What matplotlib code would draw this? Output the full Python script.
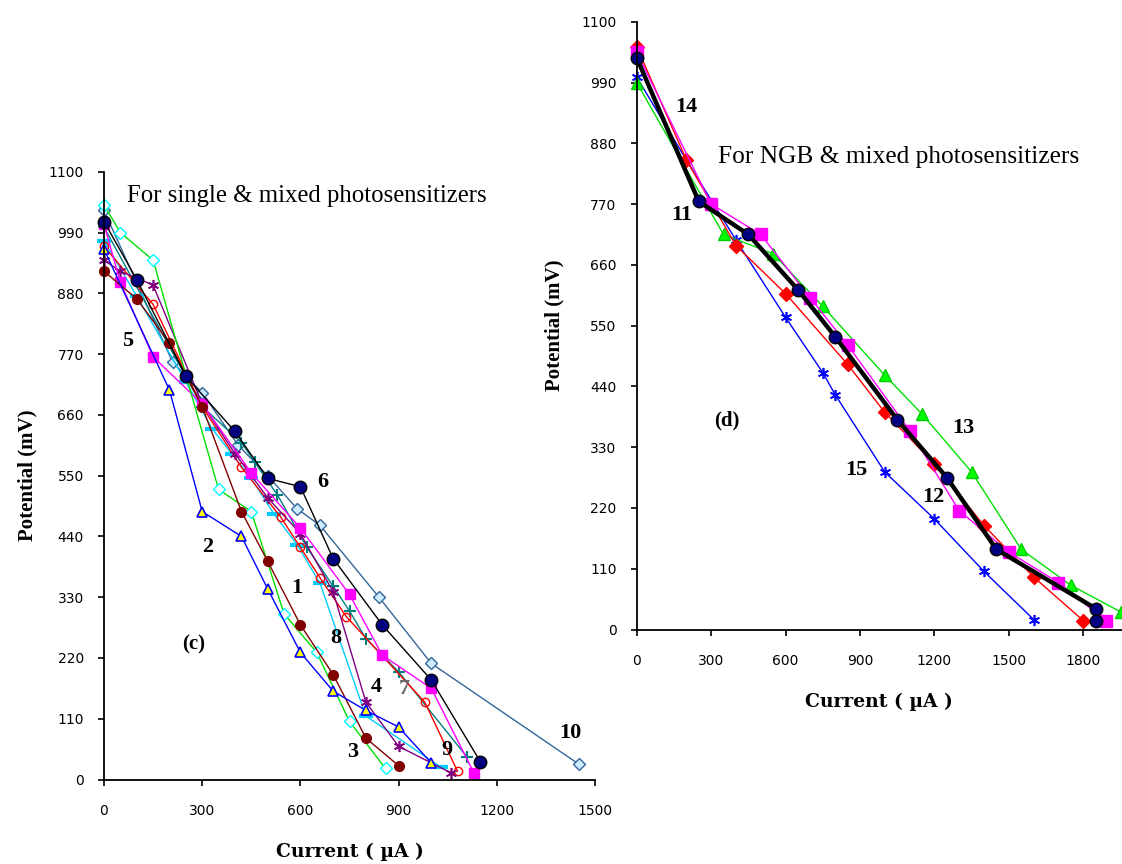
import matplotlib
matplotlib.use("Agg")
import matplotlib.pyplot as plt

# ---- panel (c): single & mixed photosensitizers ----
c1_x = [0, 100, 200, 300, 420, 500, 600, 700, 800, 900]
c1_y = [920, 870, 790, 675, 485, 395, 280, 190, 75, 25]
c2_x = [0, 200, 300, 420, 500, 600, 700, 800, 900, 1000]
c2_y = [960, 705, 485, 440, 345, 230, 160, 125, 95, 30]
c3_x = [0, 50, 150, 350, 450, 550, 650, 750, 860]
c3_y = [1040, 990, 940, 525, 485, 300, 230, 105, 20]
c4_x = [0, 50, 150, 300, 400, 500, 600, 700, 800, 900, 1060]
c4_y = [940, 920, 895, 680, 590, 510, 445, 340, 140, 60, 12]
c5_x = [0, 50, 150, 300, 450, 600, 750, 850, 1000, 1130]
c5_y = [1005, 900, 765, 680, 555, 455, 335, 225, 165, 12]
c6_x = [0, 100, 250, 400, 500, 600, 700, 850, 1000, 1150]
c6_y = [1010, 905, 730, 630, 545, 530, 400, 280, 180, 32]
c7_x = [0, 150, 300, 420, 540, 600, 660, 740, 980, 1080]
c7_y = [965, 860, 675, 565, 475, 420, 365, 295, 140, 15]
c8_x = [0, 100, 250, 330, 390, 450, 520, 590, 660, 800, 1030]
c8_y = [975, 875, 720, 635, 590, 545, 480, 425, 355, 115, 22]
c9_x = [0, 300, 420, 460, 530, 620, 700, 750, 800, 900, 1110]
c9_y = [1000, 675, 610, 575, 515, 420, 350, 305, 255, 195, 40]
c10_x = [0, 210, 300, 410, 500, 590, 660, 840, 1000, 1450]
c10_y = [1030, 755, 700, 605, 550, 490, 460, 330, 210, 28]

# ---- panel (d): NGB & mixed photosensitizers ----
d11_x = [0, 250, 450, 650, 800, 1050, 1250, 1450, 1850, 1850]
d11_y = [1035, 775, 715, 615, 530, 380, 275, 145, 38, 16]
d12_x = [0, 300, 500, 700, 850, 1100, 1300, 1500, 1700, 1890]
d12_y = [1045, 770, 715, 600, 515, 360, 215, 140, 85, 16]
d13_x = [0, 350, 550, 750, 1000, 1150, 1350, 1550, 1750, 1950]
d13_y = [990, 715, 680, 585, 460, 390, 285, 145, 80, 32]
d14_x = [0, 200, 400, 600, 850, 1000, 1200, 1400, 1600, 1800]
d14_y = [1055, 850, 695, 608, 480, 393, 300, 188, 95, 16]
d15_x = [0, 200, 400, 600, 750, 800, 1000, 1200, 1400, 1600]
d15_y = [1000, 850, 705, 565, 465, 425, 285, 200, 105, 18]

y_ticks = list(range(0, 1101, 110))
c_xticks = list(range(0, 1501, 300))
d_xticks = list(range(0, 1801, 300))

# curve labels: (text, x, y)
c_labels = [("5", 73, 793), ("6", 669, 538), ("2", 318, 421), ("1", 590, 347),
            ("8", 709, 257), ("4", 831, 168), ("7", 917, 164), ("3", 761, 50),
            ("9", 1048, 53), ("10", 1424, 84)]
d_labels = [("14", 199, 946), ("11", 181, 750), ("13", 1316, 364),
            ("15", 887, 289), ("12", 1195, 240)]

W, H = 1122, 864
fig = plt.figure(figsize=(W / 100, H / 100), dpi=100)

def px_rect(x0, x1, ytop, ybot):
    return [x0 / W, 1 - ybot / H, (x1 - x0) / W, (ybot - ytop) / H]

ax_c = fig.add_axes(px_rect(104, 595, 171.8, 779.5))
ax_d = fig.add_axes(px_rect(636.7, 1122, 21.8, 629.5))

serif_b = dict(family="Liberation Serif", weight="bold")

def style(ax, xticks, xmax, ylabelpad):
    ax.set_xlim(0, xmax)
    ax.set_ylim(0, 1100)
    ax.set_xticks(xticks)
    ax.set_yticks(y_ticks)
    for s in ("top", "right"):
        ax.spines[s].set_visible(False)
    for s in ("left", "bottom"):
        ax.spines[s].set_linewidth(1.3)
    ax.tick_params(direction="out", length=4.5, width=1.2, labelsize=10, pad=10)
    ax.tick_params(axis="x", pad=13)
    ax.set_ylabel("Potential (mV)", fontsize=15, labelpad=ylabelpad, **serif_b)
    ax.set_xlabel("Current ( \u00b5A )", fontsize=13.5, family="DejaVu Serif",
                  weight="bold", labelpad=18)
    for lab in ax.get_xticklabels() + ax.get_yticklabels():
        lab.set_family("DejaVu Sans")

lw = 1.0
ax_c.plot(c10_x, c10_y, color="#336699", lw=lw, marker="D", ms=6,
          mfc="#CCECFF", mec="#336699", mew=1)
ax_c.plot(c9_x, c9_y, color="#008080", lw=lw, marker="+", ms=8, mew=1.5)
ax_c.plot(c8_x, c8_y, color="#00CCFF", lw=lw, marker="_", ms=10, mew=3)
ax_c.plot(c7_x, c7_y, color="#FF0000", lw=lw, marker="o", ms=6,
          mfc="none", mec="#FF0000", mew=1)
ax_c.plot(c4_x, c4_y, color="#800080", lw=lw, marker=(6, 2, 0), ms=8, mew=1.2)
ax_c.plot(c5_x, c5_y, color="#FF00FF", lw=lw, marker="s", ms=7, mfc="#FF00FF", mec="#FF00FF")
ax_c.plot(c3_x, c3_y, color="#00E000", lw=lw, marker="D", ms=6,
          mfc="white", mec="#00FFFF", mew=1)
ax_c.plot(c1_x, c1_y, color="#800000", lw=lw, marker="o", ms=7, mfc="#800000", mec="#800000")
ax_c.plot(c2_x, c2_y, color="#0000FF", lw=lw, marker="^", ms=7,
          mfc="#FFFF00", mec="#0000FF", mew=1.2)
ax_c.plot(c6_x, c6_y, color="#000000", lw=lw, marker="o", ms=9,
          mfc="#000080", mec="#000000", mew=1)

ax_d.plot(d15_x, d15_y, color="#0000FF", lw=lw, marker=(6, 2, 0), ms=8, mew=1.2)
ax_d.plot(d13_x, d13_y, color="#00E000", lw=lw, marker="^", ms=8,
          mfc="#00FF00", mec="#00CC00")
ax_d.plot(d14_x, d14_y, color="#FF0000", lw=lw, marker="D", ms=7,
          mfc="#FF0000", mec="#FF0000")
ax_d.plot(d12_x, d12_y, color="#FF00FF", lw=lw, marker="s", ms=8,
          mfc="#FF00FF", mec="#FF00FF")
ax_d.plot(d11_x, d11_y, color="#000000", lw=3.2, marker="o", ms=9,
          mfc="#000080", mec="#000000", mew=1)

style(ax_c, c_xticks, 1500, 8)
style(ax_d, d_xticks, 1956, 12)

for ax in (ax_c, ax_d):
    for lab in ax.get_xticklabels() + ax.get_yticklabels():
        lab.set_clip_on(False)
    for ln in ax.get_lines():
        ln.set_clip_on(False)

ax_c.text(70, 1057, "For single & mixed photosensitizers", fontsize=17.8,
          family="Liberation Serif", va="center", ha="left")
ax_d.text(328, 855, "For NGB & mixed photosensitizers", fontsize=18.3,
          family="Liberation Serif", va="center", ha="left")
ax_c.text(275, 244, "(c)", fontsize=15, ha="center", va="center", **serif_b)
ax_d.text(364, 379, "(d)", fontsize=15, ha="center", va="center", **serif_b)

for t, x, y in c_labels:
    ax_c.text(x, y, t, fontsize=16, ha="center", va="center",
              color="#666666" if t == "7" else "black", **serif_b)
for t, x, y in d_labels:
    ax_d.text(x, y, t, fontsize=16, ha="center", va="center", **serif_b)

fig.savefig("out.png", dpi=100)
